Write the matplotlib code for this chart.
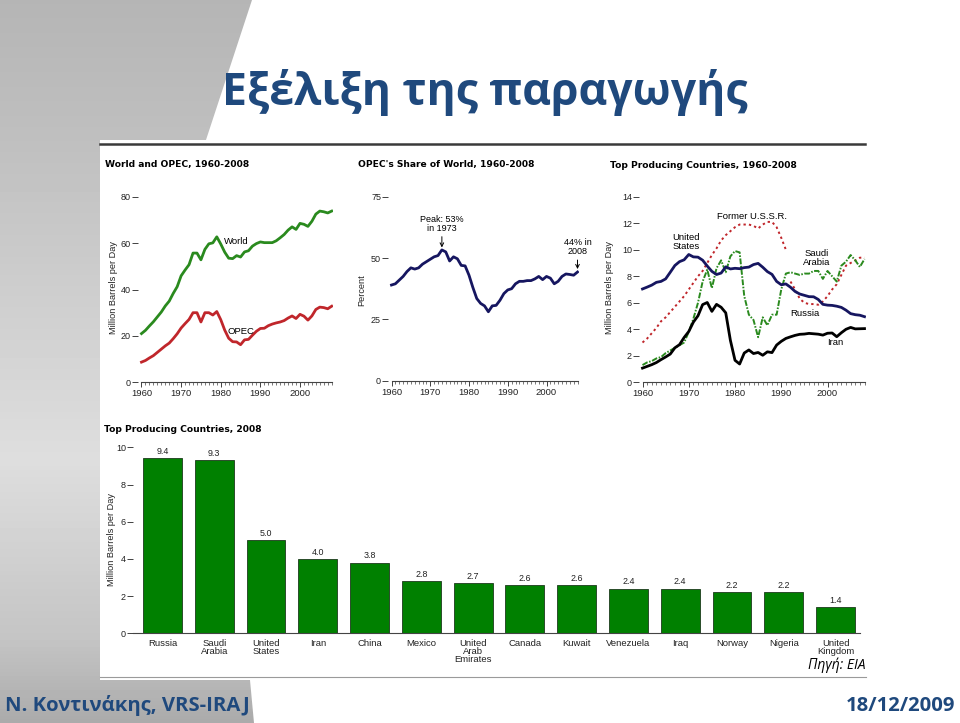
import numpy as np
import matplotlib
matplotlib.use("Agg")
import matplotlib.pyplot as plt
from matplotlib.patches import Polygon, Rectangle

W, H = 960, 723

# ---- data ----
years = list(range(1960, 2009))

world = [21.0, 22.4, 24.3, 26.1, 28.2, 30.3, 32.9, 35.0, 38.3, 41.2,
         45.9, 48.4, 50.7, 55.7, 55.7, 52.8, 57.3, 59.7, 60.1, 62.7,
         59.6, 56.1, 53.5, 53.3, 54.6, 54.0, 56.2, 56.7, 58.7, 59.8,
         60.5, 60.2, 60.2, 60.2, 61.0, 62.3, 63.7, 65.6, 67.0, 65.9,
         68.5, 68.1, 67.2, 69.4, 72.5, 73.8, 73.5, 73.0, 73.8]

opec = [8.7, 9.4, 10.5, 11.5, 12.9, 14.3, 15.7, 16.9, 18.8, 20.9,
        23.4, 25.3, 27.1, 30.0, 30.0, 26.0, 30.0, 30.0, 29.0, 30.5,
        27.0, 22.5, 19.0, 17.5, 17.4, 16.2, 18.3, 18.5, 20.3, 22.0,
        23.2, 23.3, 24.4, 25.1, 25.6, 26.0, 26.6, 27.7, 28.6, 27.5,
        29.3, 28.5, 26.8, 28.6, 31.4, 32.4, 32.2, 31.7, 32.8]

share = [39.0, 39.5, 41.0, 42.5, 44.5, 46.0, 45.5, 46.0, 47.5, 48.5,
         49.5, 50.5, 51.0, 53.3, 52.5, 48.8, 50.5, 49.7, 47.0, 46.8,
         43.0, 38.0, 33.5, 31.5, 30.5, 28.1, 30.5, 30.7, 32.8, 35.5,
         37.0, 37.5, 39.5, 40.5, 40.5, 40.8, 40.8, 41.5, 42.5, 41.2,
         42.5, 41.8, 39.5, 40.5, 42.5, 43.5, 43.3, 43.0, 44.3]

us = [7.04, 7.18, 7.33, 7.54, 7.61, 7.80, 8.30, 8.81, 9.10, 9.24,
      9.64, 9.46, 9.44, 9.21, 8.77, 8.37, 8.13, 8.24, 8.71, 8.55,
      8.60, 8.57, 8.65, 8.69, 8.88, 8.97, 8.68, 8.35, 8.14, 7.61,
      7.36, 7.42, 7.17, 6.85, 6.66, 6.56, 6.46, 6.45, 6.25, 5.88,
      5.82, 5.80, 5.74, 5.65, 5.44, 5.18, 5.10, 5.06, 4.95]

ussr_years = list(range(1960, 1992))
ussr = [3.0, 3.3, 3.7, 4.1, 4.6, 4.9, 5.3, 5.7, 6.1, 6.5,
        7.0, 7.5, 8.0, 8.4, 9.0, 9.6, 10.1, 10.7, 11.1, 11.4,
        11.7, 11.9, 11.9, 11.9, 11.8, 11.6, 11.9, 12.1, 12.1, 11.7,
        10.9, 10.0]

russia_years = list(range(1992, 2009))
russia = [7.6, 7.0, 6.3, 6.0, 5.9, 5.9, 5.85, 6.1, 6.5, 7.0,
          7.4, 8.1, 8.8, 9.0, 9.2, 9.4, 9.4]

saudi = [1.3, 1.5, 1.6, 1.8, 1.9, 2.2, 2.4, 2.6, 2.8, 3.0,
         3.8, 4.8, 6.0, 7.6, 8.5, 7.1, 8.6, 9.2, 8.3, 9.5,
         9.9, 9.8, 6.5, 5.1, 4.7, 3.4, 4.9, 4.3, 5.1, 5.1,
         7.0, 8.2, 8.3, 8.2, 8.1, 8.2, 8.2, 8.4, 8.4, 7.8,
         8.4, 8.0, 7.6, 8.8, 9.1, 9.6, 9.2, 8.7, 9.3]

iran = [1.07, 1.20, 1.33, 1.49, 1.71, 1.91, 2.13, 2.60, 2.84, 3.38,
        3.83, 4.54, 5.02, 5.86, 6.02, 5.35, 5.88, 5.66, 5.24, 3.17,
        1.66, 1.38, 2.21, 2.44, 2.17, 2.25, 2.04, 2.30, 2.24, 2.81,
        3.09, 3.31, 3.43, 3.54, 3.62, 3.64, 3.69, 3.66, 3.63, 3.56,
        3.70, 3.72, 3.44, 3.74, 4.00, 4.14, 4.03, 4.04, 4.05]

countries = ["Russia", "Saudi\nArabia", "United\nStates", "Iran", "China",
             "Mexico", "United\nArab\nEmirates", "Canada", "Kuwait",
             "Venezuela", "Iraq", "Norway", "Nigeria", "United\nKingdom"]
prod2008 = [9.4, 9.3, 5.0, 4.0, 3.8, 2.8, 2.7, 2.6, 2.6, 2.4, 2.4, 2.2, 2.2, 1.4]

GREEN = "#2a8a1e"
RED = "#c0262b"
NAVY = "#161660"
BLUE = "#1f497d"
SANS = ["Liberation Sans", "DejaVu Sans"]
SLIDE = ["Open Sans", "Noto Sans", "DejaVu Sans"]

fig = plt.figure(figsize=(9.6, 7.23), dpi=100)


def box(x0, y0, x1, y1):
    # pixel box, origin top-left -> figure fraction
    return [x0 / W, 1 - y1 / H, (x1 - x0) / W, (y1 - y0) / H]


# ---- slide background ----
bg = fig.add_axes([0, 0, 1, 1])
bg.set_xlim(0, W)
bg.set_ylim(H, 0)
bg.axis("off")

shape = Polygon([(0, 0), (252, 0), (205, 143), (205, 680), (250, 680),
                 (254, 723), (0, 723)], closed=True, fc="none", ec="none")
bg.add_patch(shape)
yy = np.linspace(0, H, 200)
shade = np.interp(yy, [0, 140, 460, 640, 723], [0.71, 0.75, 0.87, 0.77, 0.67])
im = bg.imshow(np.tile(shade[:, None], (1, 4)), cmap="gray", vmin=0, vmax=1,
               extent=(0, W, H, 0), aspect="auto", zorder=1)
im.set_clip_path(shape)

bg.add_patch(Rectangle((100, 140), 765, 540, fc="white", ec="none", zorder=2))
bg.plot([100, 865], [143.5, 143.5], color="#3a3a3a", lw=1.8, zorder=3)
bg.plot([100, 866], [677, 677], color="#9a9a9a", lw=0.8, zorder=3)

bg.text(222, 92, "Εξέλιξη της παραγωγής", color=BLUE, fontsize=32,
        fontweight="bold", family=SLIDE, ha="left", va="center", zorder=4)
bg.text(5, 706, "Ν. Κοντινάκης, VRS-IRAJ", color=BLUE, fontsize=14.6,
        fontweight="bold", family=SLIDE, ha="left", va="center", zorder=4)
bg.text(955, 706, "18/12/2009", color=BLUE, fontsize=14.6,
        fontweight="bold", family=SLIDE, ha="right", va="center", zorder=4)
bg.text(866, 665, "Πηγή: EIA", fontsize=10, style="italic",
        family=SLIDE, ha="right", va="center", zorder=4)

# panel titles and y labels
for x, y, t in [(105, 165, "World and OPEC, 1960-2008"),
                (358, 165, "OPEC's Share of World, 1960-2008"),
                (610, 165, "Top Producing Countries, 1960-2008"),
                (104, 430, "Top Producing Countries, 2008")]:
    bg.text(x, y, t, fontsize=6.6, fontweight="bold", family="DejaVu Sans",
            ha="left", va="center", zorder=4)

for x, y, t in [(114, 288, "Million Barrels per Day"),
                (362, 290, "Percent"),
                (610, 288, "Million Barrels per Day"),
                (112, 540, "Million Barrels per Day")]:
    bg.text(x, y, t, fontsize=6.6, family=SANS, rotation=90, color="#222",
            ha="center", va="center", zorder=4)


def line_panel(x1960, x2000, y0, ytop, ymax, yticks):
    s = (x2000 - x1960) / 40.0
    xa, xb = 1960 - 3.5 / s, 2008.3
    pa = x1960 + (xa - 1960) * s
    pb = x1960 + (xb - 1960) * s
    ax = fig.add_axes(box(pa, ytop, pb, y0))
    ax.set_xlim(xa, xb)
    ax.set_ylim(0, ymax)
    ax.patch.set_alpha(0)
    for sp in ["top", "right", "left"]:
        ax.spines[sp].set_visible(False)
    ax.spines["bottom"].set_bounds(1960, 2008)
    ax.spines["bottom"].set_color("#444")
    ax.spines["bottom"].set_linewidth(0.8)
    ax.set_xticks(range(1960, 2001, 10))
    ax.set_xticks(range(1960, 2009), minor=True)
    ax.set_yticks(yticks)
    ax.tick_params(axis="x", which="major", length=3.5, width=0.6, pad=1.5,
                   labelsize=6.8, colors="#222")
    ax.tick_params(axis="x", which="minor", length=2.2, width=0.5, colors="#444")
    ax.tick_params(axis="y", length=4, width=0.6, pad=1, labelsize=6.5,
                   colors="#222")
    for lab in ax.get_xticklabels() + ax.get_yticklabels():
        lab.set_family(SANS)
    return ax


# ---- World and OPEC ----
ax1 = line_panel(141.5, 300, 382.3, 196.7, 80, [0, 20, 40, 60, 80])
ax1.plot(years, world, color=GREEN, lw=2.0)
ax1.plot(years, opec, color=RED, lw=2.0)
ax1.text(1980.8, 60.5, "World", fontsize=6.8, family=SANS, va="center")
ax1.text(1981.6, 22.1, "OPEC", fontsize=6.8, family=SANS, va="center")

# ---- OPEC share ----
ax2 = line_panel(391.5, 546.5, 380.7, 196.7, 75, [0, 25, 50, 75])
ax2.plot(years, share, color=NAVY, lw=2.0)
ax2.annotate("Peak: 53%\nin 1973", xy=(1973, 54.3), xytext=(1973, 64),
             ha="center", va="center", fontsize=6.5, family=SANS,
             linespacing=0.95,
             arrowprops=dict(arrowstyle="->", lw=0.7, color="black",
                             shrinkA=1, shrinkB=0))
ax2.annotate("44% in\n2008", xy=(2008, 45.5), xytext=(2008, 54.5),
             ha="center", va="center", fontsize=6.5, family=SANS,
             linespacing=0.95,
             arrowprops=dict(arrowstyle="->", lw=0.7, color="black",
                             shrinkA=1, shrinkB=0))

# ---- Top producers over time ----
ax3 = line_panel(642.5, 827.5, 382.3, 196.7, 14, [0, 2, 4, 6, 8, 10, 12, 14])
ax3.plot(ussr_years, ussr, color=RED, lw=1.4, dashes=(1.2, 1.6))
ax3.plot(russia_years, russia, color=RED, lw=1.4, dashes=(1.2, 1.6))
ax3.plot(years, saudi, color=GREEN, lw=1.4, dashes=(3, 0.8, 0.8, 0.8))
ax3.plot(years, us, color=NAVY, lw=2.0)
ax3.plot(years, iran, color="black", lw=2.0)
for x, y, t in [(1983.7, 12.5, "Former U.S.S.R."),
                (1969.4, 10.6, "United\nStates"),
                (1997.7, 9.4, "Saudi\nArabia"),
                (1995.1, 5.2, "Russia"),
                (2001.6, 3.0, "Iran")]:
    ax3.text(x, y, t, fontsize=6.8, family=SANS, ha="center", va="center",
             linespacing=0.95)

# ---- 2008 bar chart ----
step = 51.77
axb = fig.add_axes(box(133, 447.3, 860, 633.3))
xs = np.arange(len(countries))
axb.set_xlim((133 - 162.5) / step, (860 - 162.5) / step)
axb.set_ylim(0, 10)
axb.patch.set_alpha(0)
axb.bar(xs, prod2008, width=0.75, color="#008000", edgecolor="#1c3a1c", lw=0.6)
for x, v in zip(xs, prod2008):
    axb.text(x, v + 0.12, f"{v:.1f}", fontsize=6.4, family=SANS,
             ha="center", va="bottom", color="#222")
for sp in ["top", "right", "left"]:
    axb.spines[sp].set_visible(False)
axb.spines["bottom"].set_color("#444")
axb.spines["bottom"].set_linewidth(0.8)
axb.set_xticks(xs)
axb.set_xticklabels(countries, linespacing=0.85)
axb.set_yticks([0, 2, 4, 6, 8, 10])
axb.tick_params(axis="x", length=0, pad=4, labelsize=6.8, colors="#222")
axb.tick_params(axis="y", length=4, width=0.6, pad=1, labelsize=6.5,
                colors="#222")
for lab in axb.get_xticklabels() + axb.get_yticklabels():
    lab.set_family(SANS)

fig.savefig("out.png", dpi=100)
